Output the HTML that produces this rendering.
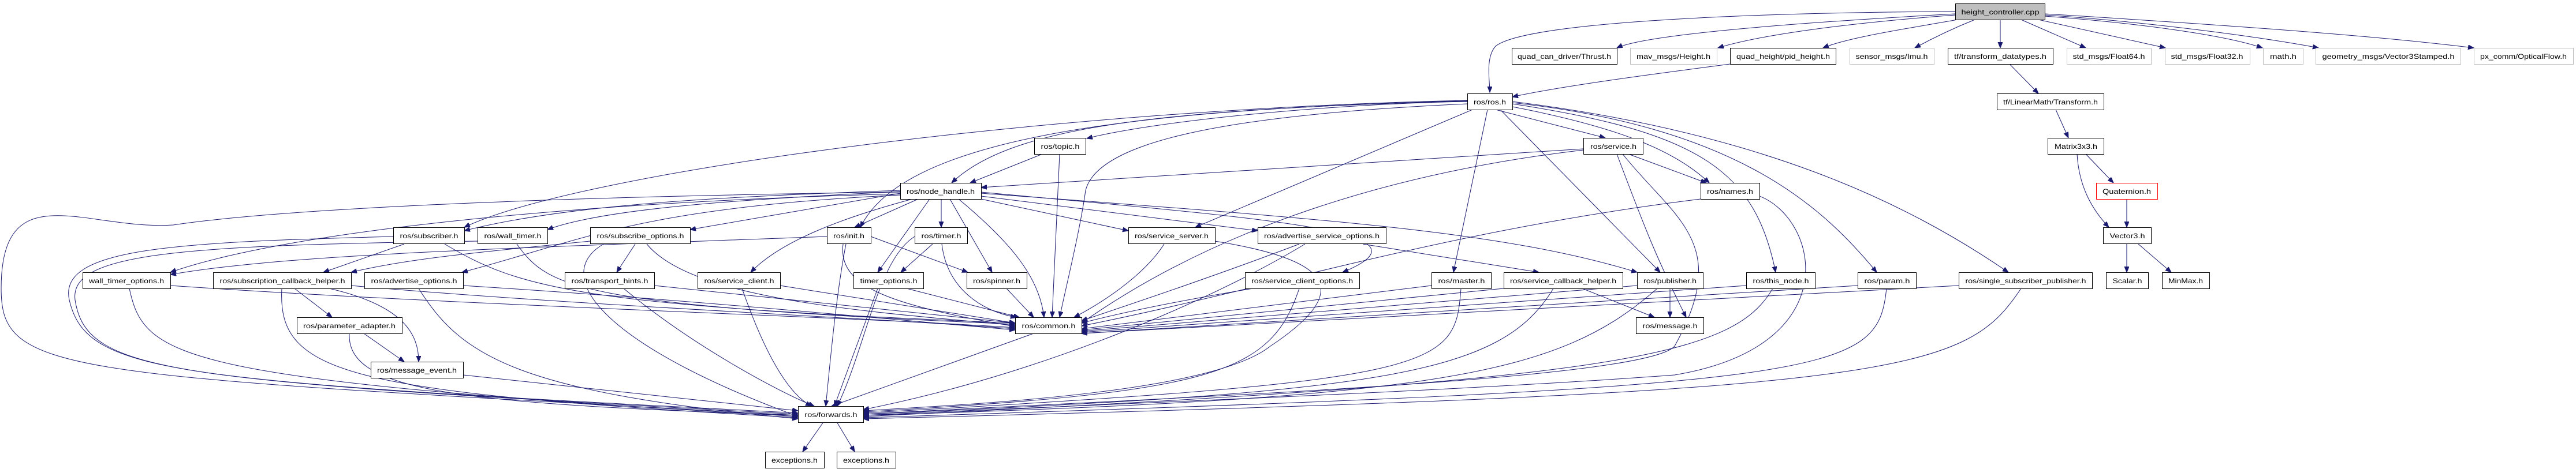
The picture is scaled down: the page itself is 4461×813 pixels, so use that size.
<!DOCTYPE html>
<html><head><meta charset="utf-8"><style>
html,body{margin:0;padding:0;background:#fff;}
svg{display:block;}
text{font-family:"Liberation Sans",sans-serif;font-size:12px;fill:#000;}
.e{fill:none;stroke:#191970;stroke-width:1;marker-end:url(#a);}
.n{fill:#fff;stroke:#000;stroke-width:1;}
.g{fill:#fff;stroke:#bfbfbf;stroke-width:1;}
</style></head><body>
<svg width="4461" height="813" viewBox="0 0 4461 813" xmlns="http://www.w3.org/2000/svg">
<defs><marker id="a" markerUnits="userSpaceOnUse" markerWidth="12" markerHeight="10" refX="10" refY="4" orient="auto"><path d="M0,0 L10,4 L0,8 z" fill="#191970" stroke="#191970"/></marker></defs>
<g>
<path class="e" d="M3386 20 C3000 22 2640 40 2590 80 C2572 100 2580 140 2580 160"/>
<path class="e" d="M3386 24 C3100 40 2850 60 2800 83"/>
<path class="e" d="M3386 26 C3200 40 3050 60 2975 83"/>
<path class="e" d="M3390 34 C3300 50 3200 65 3157 83"/>
<path class="e" d="M3420 34 C3380 50 3340 70 3316 83"/>
<path class="e" d="M3464 34 L3464 83"/>
<path class="e" d="M3500 34 L3612 83"/>
<path class="e" d="M3530 34 L3750 83"/>
<path class="e" d="M3541 28 C3700 40 3850 60 3918 83"/>
<path class="e" d="M3541 26 C3750 40 3950 70 4015 83"/>
<path class="e" d="M3541 24 C3800 40 4100 60 4284 83"/>
<path class="e" d="M2996 111 C2850 130 2700 150 2619 168"/>
<path class="e" d="M3481 112 L3530 162"/>
<path class="e" d="M3560 190 L3582 239"/>
<path class="e" d="M3612 267 L3660 317"/>
<path class="e" d="M3597 267 C3600 320 3620 360 3652 394"/>
<path class="e" d="M3683 345 L3683 394"/>
<path class="e" d="M3683 423 L3683 472"/>
<path class="e" d="M3703 423 L3760 472"/>
<path class="e" d="M2541 176 C2300 180 2000 210 1882 240"/>
<path class="e" d="M2541 175 C2000 190 1750 220 1648 317"/>
<path class="e" d="M2541 174 C1800 190 1000 300 804 394"/>
<path class="e" d="M2541 175 C1900 190 1560 250 1490 394"/>
<path class="e" d="M2541 180 C2100 200 1900 250 1880 330 C1870 400 1850 480 1835 550"/>
<path class="e" d="M2550 190 L2070 394"/>
<path class="e" d="M2590 190 L2780 239"/>
<path class="e" d="M2619 185 C2800 220 2900 260 2960 317"/>
<path class="e" d="M2576 190 L2517 472"/>
<path class="e" d="M2598 190 L2875 472"/>
<path class="e" d="M2619 180 C2950 230 3040 300 3075 472"/>
<path class="e" d="M2619 178 C3000 220 3150 350 3250 472"/>
<path class="e" d="M2619 176 C3050 230 3300 350 3478 472"/>
<path class="e" d="M1805 267 L1680 317"/>
<path class="e" d="M1835 267 L1822 550"/>
<path class="e" d="M2742 258 L1699 325"/>
<path class="e" d="M2742 260 C2400 300 2100 400 1873 560"/>
<path class="e" d="M2820 267 L2955 317"/>
<path class="e" d="M2800 267 C2850 400 2870 450 2920 550"/>
<path class="e" d="M2810 267 C2900 380 3000 420 2900 600 C2850 660 2000 690 1495 718"/>
<path class="e" d="M2945 345 C2500 400 2200 500 1873 565"/>
<path class="e" d="M3047 340 C3150 380 3200 600 2900 650 C2500 680 1800 705 1495 720"/>
<path class="e" d="M1559 330 C1300 340 1000 350 804 400"/>
<path class="e" d="M1559 332 C1300 345 1050 360 948 398"/>
<path class="e" d="M1559 335 L1195 398"/>
<path class="e" d="M1590 345 L1480 394"/>
<path class="e" d="M1630 345 L1630 394"/>
<path class="e" d="M1699 345 L1954 400"/>
<path class="e" d="M1699 340 L2178 400"/>
<path class="e" d="M1559 336 C1000 350 500 400 295 472"/>
<path class="e" d="M1559 338 C1100 360 1000 420 800 472"/>
<path class="e" d="M1580 345 C1450 380 1350 420 1300 472"/>
<path class="e" d="M1610 345 L1520 472"/>
<path class="e" d="M1645 345 L1718 472"/>
<path class="e" d="M1699 333 C2200 380 2500 400 2325 472"/>
<path class="e" d="M1699 335 C2300 380 2600 400 2835 472"/>
<path class="e" d="M1660 345 C1750 420 1800 480 1808 550"/>
<path class="e" d="M1559 333 C1000 340 500 360 300 390 C150 400 2 300 2 500 C2 650 100 650 1382 720"/>
<path class="e" d="M700 423 L560 472"/>
<path class="e" d="M770 423 C900 500 1000 530 1758 560"/>
<path class="e" d="M681 410 C300 420 100 430 120 520 C150 650 300 660 1382 716"/>
<path class="e" d="M827 418 C300 425 120 440 130 520 C150 650 300 660 1382 718"/>
<path class="e" d="M895 423 C950 500 1000 530 1758 562"/>
<path class="e" d="M1100 423 L1068 472"/>
<path class="e" d="M1022 418 C800 440 700 450 608 472"/>
<path class="e" d="M1120 423 C1200 520 1500 540 1758 564"/>
<path class="e" d="M1045 423 C950 480 1050 600 1382 722"/>
<path class="e" d="M1432 410 C900 430 500 440 295 476"/>
<path class="e" d="M1465 423 C1450 500 1440 600 1430 704"/>
<path class="e" d="M1460 423 C1450 500 1550 530 1758 566"/>
<path class="e" d="M1508 410 L1676 472"/>
<path class="e" d="M1615 423 L1560 472"/>
<path class="e" d="M1631 423 C1640 500 1700 540 1760 550"/>
<path class="e" d="M1584 410 C1520 450 1500 600 1450 704"/>
<path class="e" d="M295 495 C800 530 1500 550 1758 568"/>
<path class="e" d="M224 500 C250 620 300 660 1382 722"/>
<path class="e" d="M510 500 L575 550"/>
<path class="e" d="M570 500 C700 530 725 580 725 627"/>
<path class="e" d="M608 495 C1000 530 1500 550 1758 570"/>
<path class="e" d="M488 500 C480 650 600 680 1382 724"/>
<path class="e" d="M802 495 C1200 520 1500 550 1758 572"/>
<path class="e" d="M725 500 C800 620 900 680 1382 726"/>
<path class="e" d="M1133 495 L1758 560"/>
<path class="e" d="M1080 500 C1200 600 1350 680 1410 704"/>
<path class="e" d="M1351 495 L1758 560"/>
<path class="e" d="M1285 500 C1320 600 1360 680 1405 704"/>
<path class="e" d="M1570 500 L1765 550"/>
<path class="e" d="M1520 500 L1445 704"/>
<path class="e" d="M1743 500 L1790 550"/>
<path class="e" d="M2016 423 C1980 480 1900 530 1860 550"/>
<path class="e" d="M2104 418 C2300 450 2350 500 2200 600 C2100 680 1700 700 1495 712"/>
<path class="e" d="M2250 423 C2100 480 1950 530 1873 556"/>
<path class="e" d="M2260 423 C2100 520 1800 650 1495 710"/>
<path class="e" d="M2360 423 L2665 472"/>
<path class="e" d="M2170 500 C2050 520 1950 540 1873 560"/>
<path class="e" d="M2250 500 C2200 650 2100 680 1495 714"/>
<path class="e" d="M2479 495 L1873 570"/>
<path class="e" d="M2530 500 C2520 640 2500 660 1495 716"/>
<path class="e" d="M2604 500 L1873 572"/>
<path class="e" d="M2740 500 L2865 550"/>
<path class="e" d="M2690 500 C2600 650 2400 680 1495 718"/>
<path class="e" d="M2835 495 L1873 574"/>
<path class="e" d="M2892 500 L2892 550"/>
<path class="e" d="M2870 500 C2700 650 2500 690 1495 720"/>
<path class="e" d="M3024 495 L1873 576"/>
<path class="e" d="M3070 500 C3000 620 2800 660 1495 722"/>
<path class="e" d="M3217 495 L1873 578"/>
<path class="e" d="M3267 500 C3250 650 3200 670 1495 724"/>
<path class="e" d="M3392 495 L1873 578"/>
<path class="e" d="M3500 500 C3400 650 3300 680 1495 726"/>
<path class="e" d="M1790 578 L1440 704"/>
<path class="e" d="M630 578 L700 627"/>
<path class="e" d="M605 578 C600 680 800 700 1382 720"/>
<path class="e" d="M802 650 L1382 712"/>
<path class="e" d="M1425 733 L1390 783"/>
<path class="e" d="M1450 733 L1480 783"/>
</g>
<g>
<rect x="3386.5" y="6.5" width="155" height="28" fill="#bfbfbf" stroke="#000"/><text x="3464" y="25" text-anchor="middle" textLength="135" lengthAdjust="spacingAndGlyphs">height_controller.cpp</text>
<rect class="n" x="2618.5" y="83.5" width="182" height="28"/><text x="2709" y="102" text-anchor="middle" textLength="162" lengthAdjust="spacingAndGlyphs">quad_can_driver/Thrust.h</text>
<rect class="g" x="2823.5" y="83.5" width="150" height="28"/><text x="2898" y="102" text-anchor="middle" textLength="128" lengthAdjust="spacingAndGlyphs">mav_msgs/Height.h</text>
<rect class="n" x="2996.5" y="83.5" width="183" height="28"/><text x="3088" y="102" text-anchor="middle" textLength="162" lengthAdjust="spacingAndGlyphs">quad_height/pid_height.h</text>
<rect class="g" x="3203.5" y="83.5" width="146" height="28"/><text x="3276" y="102" text-anchor="middle" textLength="125" lengthAdjust="spacingAndGlyphs">sensor_msgs/Imu.h</text>
<rect class="n" x="3373.5" y="83.5" width="182" height="28"/><text x="3464" y="102" text-anchor="middle" textLength="160" lengthAdjust="spacingAndGlyphs">tf/transform_datatypes.h</text>
<rect class="g" x="3579.5" y="83.5" width="146" height="28"/><text x="3652" y="102" text-anchor="middle" textLength="125" lengthAdjust="spacingAndGlyphs">std_msgs/Float64.h</text>
<rect class="g" x="3749.5" y="83.5" width="147" height="28"/><text x="3822" y="102" text-anchor="middle" textLength="125" lengthAdjust="spacingAndGlyphs">std_msgs/Float32.h</text>
<rect class="g" x="3919.5" y="83.5" width="69" height="28"/><text x="3954" y="102" text-anchor="middle" textLength="46" lengthAdjust="spacingAndGlyphs">math.h</text>
<rect class="g" x="4010.5" y="83.5" width="251" height="28"/><text x="4136" y="102" text-anchor="middle" textLength="229" lengthAdjust="spacingAndGlyphs">geometry_msgs/Vector3Stamped.h</text>
<rect class="g" x="4284.5" y="83.5" width="172" height="28"/><text x="4370" y="102" text-anchor="middle" textLength="150" lengthAdjust="spacingAndGlyphs">px_comm/OpticalFlow.h</text>
<rect class="n" x="2541.5" y="162.5" width="78" height="28"/><text x="2580" y="181" text-anchor="middle" textLength="56" lengthAdjust="spacingAndGlyphs">ros/ros.h</text>
<rect class="n" x="3458.5" y="162.5" width="185" height="28"/><text x="3551" y="181" text-anchor="middle" textLength="164" lengthAdjust="spacingAndGlyphs">tf/LinearMath/Transform.h</text>
<rect class="n" x="1791.5" y="239.5" width="89" height="28"/><text x="1836" y="258" text-anchor="middle" textLength="67" lengthAdjust="spacingAndGlyphs">ros/topic.h</text>
<rect class="n" x="2742.5" y="239.5" width="103" height="28"/><text x="2794" y="258" text-anchor="middle" textLength="80" lengthAdjust="spacingAndGlyphs">ros/service.h</text>
<rect class="n" x="3546.5" y="239.5" width="97" height="28"/><text x="3595" y="258" text-anchor="middle" textLength="74" lengthAdjust="spacingAndGlyphs">Matrix3x3.h</text>
<rect class="n" x="1559.5" y="317.5" width="140" height="28"/><text x="1629" y="336" text-anchor="middle" textLength="118" lengthAdjust="spacingAndGlyphs">ros/node_handle.h</text>
<rect class="n" x="2945.5" y="317.5" width="102" height="28"/><text x="2996" y="336" text-anchor="middle" textLength="80" lengthAdjust="spacingAndGlyphs">ros/names.h</text>
<rect x="3630.5" y="317.5" width="106" height="28" fill="#fff" stroke="#ff0000"/><text x="3683" y="336" text-anchor="middle" textLength="84" lengthAdjust="spacingAndGlyphs">Quaternion.h</text>
<rect class="n" x="681.5" y="394.5" width="123" height="28"/><text x="743" y="413" text-anchor="middle" textLength="101" lengthAdjust="spacingAndGlyphs">ros/subscriber.h</text>
<rect class="n" x="827.5" y="394.5" width="121" height="28"/><text x="888" y="413" text-anchor="middle" textLength="99" lengthAdjust="spacingAndGlyphs">ros/wall_timer.h</text>
<rect class="n" x="1022.5" y="394.5" width="173" height="28"/><text x="1109" y="413" text-anchor="middle" textLength="151" lengthAdjust="spacingAndGlyphs">ros/subscribe_options.h</text>
<rect class="n" x="1432.5" y="394.5" width="76" height="28"/><text x="1470" y="413" text-anchor="middle" textLength="54" lengthAdjust="spacingAndGlyphs">ros/init.h</text>
<rect class="n" x="1584.5" y="394.5" width="91" height="28"/><text x="1630" y="413" text-anchor="middle" textLength="69" lengthAdjust="spacingAndGlyphs">ros/timer.h</text>
<rect class="n" x="1954.5" y="394.5" width="150" height="28"/><text x="2029" y="413" text-anchor="middle" textLength="128" lengthAdjust="spacingAndGlyphs">ros/service_server.h</text>
<rect class="n" x="2178.5" y="394.5" width="222" height="28"/><text x="2289" y="413" text-anchor="middle" textLength="200" lengthAdjust="spacingAndGlyphs">ros/advertise_service_options.h</text>
<rect class="n" x="3642.5" y="394.5" width="83" height="28"/><text x="3684" y="413" text-anchor="middle" textLength="61" lengthAdjust="spacingAndGlyphs">Vector3.h</text>
<rect class="n" x="143.5" y="472.5" width="152" height="28"/><text x="219" y="491" text-anchor="middle" textLength="130" lengthAdjust="spacingAndGlyphs">wall_timer_options.h</text>
<rect class="n" x="369.5" y="472.5" width="239" height="28"/><text x="489" y="491" text-anchor="middle" textLength="217" lengthAdjust="spacingAndGlyphs">ros/subscription_callback_helper.h</text>
<rect class="n" x="631.5" y="472.5" width="171" height="28"/><text x="717" y="491" text-anchor="middle" textLength="149" lengthAdjust="spacingAndGlyphs">ros/advertise_options.h</text>
<rect class="n" x="978.5" y="472.5" width="155" height="28"/><text x="1056" y="491" text-anchor="middle" textLength="133" lengthAdjust="spacingAndGlyphs">ros/transport_hints.h</text>
<rect class="n" x="1208.5" y="472.5" width="143" height="28"/><text x="1280" y="491" text-anchor="middle" textLength="121" lengthAdjust="spacingAndGlyphs">ros/service_client.h</text>
<rect class="n" x="1478.5" y="472.5" width="121" height="28"/><text x="1539" y="491" text-anchor="middle" textLength="99" lengthAdjust="spacingAndGlyphs">timer_options.h</text>
<rect class="n" x="1674.5" y="472.5" width="104" height="28"/><text x="1726" y="491" text-anchor="middle" textLength="82" lengthAdjust="spacingAndGlyphs">ros/spinner.h</text>
<rect class="n" x="2156.5" y="472.5" width="198" height="28"/><text x="2255" y="491" text-anchor="middle" textLength="176" lengthAdjust="spacingAndGlyphs">ros/service_client_options.h</text>
<rect class="n" x="2479.5" y="472.5" width="103" height="28"/><text x="2531" y="491" text-anchor="middle" textLength="81" lengthAdjust="spacingAndGlyphs">ros/master.h</text>
<rect class="n" x="2604.5" y="472.5" width="206" height="28"/><text x="2707" y="491" text-anchor="middle" textLength="184" lengthAdjust="spacingAndGlyphs">ros/service_callback_helper.h</text>
<rect class="n" x="2835.5" y="472.5" width="114" height="28"/><text x="2892" y="491" text-anchor="middle" textLength="92" lengthAdjust="spacingAndGlyphs">ros/publisher.h</text>
<rect class="n" x="3024.5" y="472.5" width="119" height="28"/><text x="3084" y="491" text-anchor="middle" textLength="97" lengthAdjust="spacingAndGlyphs">ros/this_node.h</text>
<rect class="n" x="3217.5" y="472.5" width="101" height="28"/><text x="3268" y="491" text-anchor="middle" textLength="79" lengthAdjust="spacingAndGlyphs">ros/param.h</text>
<rect class="n" x="3392.5" y="472.5" width="231" height="28"/><text x="3508" y="491" text-anchor="middle" textLength="209" lengthAdjust="spacingAndGlyphs">ros/single_subscriber_publisher.h</text>
<rect class="n" x="3647.5" y="472.5" width="73" height="28"/><text x="3684" y="491" text-anchor="middle" textLength="51" lengthAdjust="spacingAndGlyphs">Scalar.h</text>
<rect class="n" x="3744.5" y="472.5" width="82" height="28"/><text x="3785" y="491" text-anchor="middle" textLength="60" lengthAdjust="spacingAndGlyphs">MinMax.h</text>
<rect class="n" x="514.5" y="550.5" width="182" height="28"/><text x="605" y="569" text-anchor="middle" textLength="160" lengthAdjust="spacingAndGlyphs">ros/parameter_adapter.h</text>
<rect class="n" x="1758.5" y="550.5" width="115" height="28"/><text x="1816" y="569" text-anchor="middle" textLength="93" lengthAdjust="spacingAndGlyphs">ros/common.h</text>
<rect class="n" x="2833.5" y="550.5" width="117" height="28"/><text x="2892" y="569" text-anchor="middle" textLength="95" lengthAdjust="spacingAndGlyphs">ros/message.h</text>
<rect class="n" x="642.5" y="627.5" width="160" height="28"/><text x="722" y="646" text-anchor="middle" textLength="138" lengthAdjust="spacingAndGlyphs">ros/message_event.h</text>
<rect class="n" x="1382.5" y="704.5" width="113" height="28"/><text x="1439" y="723" text-anchor="middle" textLength="91" lengthAdjust="spacingAndGlyphs">ros/forwards.h</text>
<rect class="n" x="1325.5" y="783.5" width="102" height="28"/><text x="1376" y="802" text-anchor="middle" textLength="80" lengthAdjust="spacingAndGlyphs">exceptions.h</text>
<rect class="n" x="1449.5" y="783.5" width="102" height="28"/><text x="1500" y="802" text-anchor="middle" textLength="80" lengthAdjust="spacingAndGlyphs">exceptions.h</text>
</g>
</svg>
</body></html>
